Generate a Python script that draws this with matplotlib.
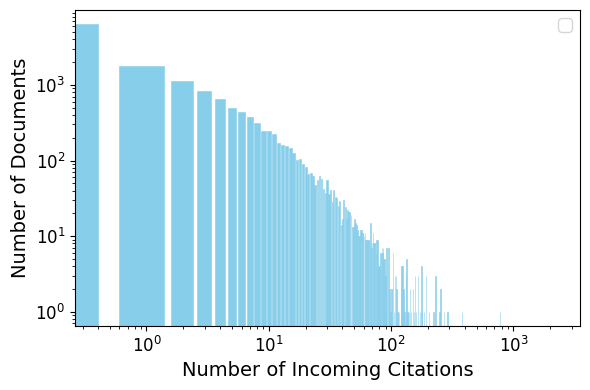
import numpy as np
import matplotlib
matplotlib.use("Agg")
import matplotlib.pyplot as plt

# documents per citation count, 0..92 (dense part)
dense_docs = [
    6300, 1800, 1110, 820, 660, 500, 432, 371, 309, 249,
    249, 227, 173, 162, 157, 148, 127, 103, 106, 91,
    83, 67, 69, 63, 48, 56, 63, 57, 42, 37,
    56, 36, 41, 28, 41, 33, 32, 25, 29, 14,
    17, 30, 24, 17, 22, 21, 21, 19, 13, 13,
    17, 15, 14, 12, 10, 10, 12, 12, 11, 11,
    10, 11, 9, 9, 9, 9, 9, 9, 15, 7,
    8, 11, 8, 8, 8, 6, 9, 9, 4, 4,
    4, 0, 6, 6, 7, 6, 7, 5, 5, 3,
    3, 1, 7,
]
dense_x = list(range(len(dense_docs)))

# sparse tail
tail_x = [95, 97, 99, 101, 102, 104, 106, 108, 110, 111, 113, 114, 116,
          120, 122, 124, 126, 129, 132, 134, 136, 138, 140, 143, 146, 150,
          154, 157, 160, 165, 172, 177, 180, 186, 193, 203, 222, 231, 249,
          253, 272, 289, 380, 780]
tail_docs = [7, 2, 1, 2, 2, 6, 1, 3, 3, 2, 1, 1, 1,
             2, 4, 4, 2, 1, 3, 5, 1, 1, 1, 2, 1, 2,
             1, 3, 1, 3, 1, 4, 1, 1, 3, 1, 1, 3, 1,
             2, 1, 1, 1, 1]

citations = np.array(dense_x + tail_x)
docs = np.array(dense_docs + tail_docs)

fig, ax = plt.subplots(figsize=(5.9, 3.9), dpi=100)
# thin edge in the same colour keeps the sub-pixel tail bars visible
ax.bar(citations, docs, color="skyblue", edgecolor="skyblue", linewidth=0.4)
ax.set_xscale("log")
ax.set_yscale("log")
ax.set_xlim(0.26, 3500)
ax.set_xlabel("Number of Incoming Citations", fontsize=14)
ax.set_ylabel("Number of Documents", fontsize=14)
ax.tick_params(axis="both", labelsize=12)
ax.legend(fontsize=12)

fig.subplots_adjust(left=0.127, right=0.983, top=0.974, bottom=0.164)
fig.savefig("out.png", dpi=100)
